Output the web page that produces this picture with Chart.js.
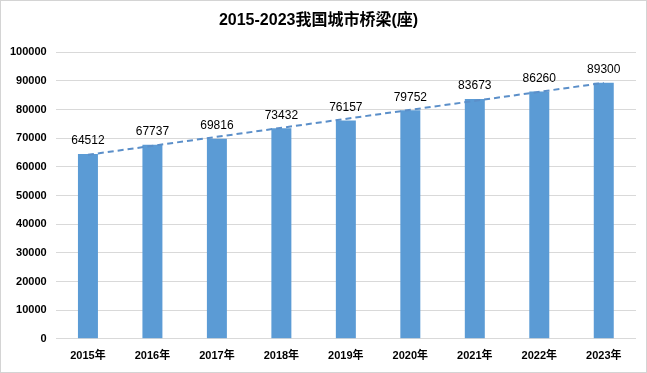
<!DOCTYPE html>
<html>
<head>
<meta charset="utf-8">
<script src="https://cdn.jsdelivr.net/npm/chart.js@4"></script>
<style>
  html, body { margin: 0; padding: 0; background: #fff; }
  #wrap { width: 647px; height: 373px; box-sizing: border-box; border: 1px solid #d4d4d4; }
</style>
</head>
<body>
<div id="wrap"><canvas id="myChart" width="645" height="371"></canvas></div>
<script>
// values
var years = ['2015年', '2016年', '2017年', '2018年', '2019年', '2020年', '2021年', '2022年', '2023年'];
var bridges = [64512, 67737, 69816, 73432, 76157, 79752, 83673, 86260, 89300];
// dashed trend line, start and end
var trendStart = 64200;
var trendEnd = 89300;

const font = "'Liberation Sans', 'Noto Sans CJK SC', sans-serif";

// numbers over the bars
const barLabels = {
    id: 'barLabels',
    afterDatasetsDraw(chart) {
        const c = chart.ctx;
        const meta = chart.getDatasetMeta(0);
        c.save();
        c.fillStyle = '#000';
        c.font = '12px ' + font;
        c.textAlign = 'center';
        c.textBaseline = 'bottom';
        meta.data.forEach(function (bar, i) {
            c.fillText(bridges[i], bar.x, bar.y - 7);
        });
        c.restore();
    }
};

const ctx = document.getElementById('myChart').getContext('2d');
var graphData = {
    type: 'bar',
    data: {
        labels: years,
        datasets: [{
            label: '城市桥梁',
            data: bridges,
            backgroundColor: '#5b9bd5',
            barPercentage: 0.62,
            categoryPercentage: 0.5,
            order: 2
        }, {
            type: 'line',
            label: '趋势',
            data: [{ x: years[0], y: trendStart }, { x: years[years.length - 1], y: trendEnd }],
            borderColor: '#5b8fc9',
            borderWidth: 2,
            borderDash: [6, 4],
            pointRadius: 0,
            fill: false,
            order: 1
        }]
    },
    options: {
        responsive: false,
        animation: false,
        layout: { padding: { left: 0, right: 10, top: 6, bottom: 6 } },
        plugins: {
            legend: { display: false },
            tooltip: { enabled: false },
            title: {
                display: true,
                text: '2015-2023我国城市桥梁(座)',
                color: '#000',
                font: { family: font, size: 16, weight: 'bold' },
                padding: { top: 4, bottom: 22 }
            }
        },
        scales: {
            x: {
                grid: { display: false },
                border: { display: false },
                ticks: { color: '#000', font: { family: font, size: 11, weight: 'bold' }, padding: 3 }
            },
            y: {
                min: 0,
                max: 100000,
                ticks: {
                    stepSize: 10000, color: '#000', font: { family: font, size: 11, weight: 'bold' }, padding: 9,
                    callback: function (v) { return String(v); }
                },
                grid: { color: '#d9d9d9', drawTicks: false },
                border: { display: false }
            }
        }
    },
    plugins: [barLabels]
};
const myChart = new Chart(ctx, graphData);
</script>
</body>
</html>
